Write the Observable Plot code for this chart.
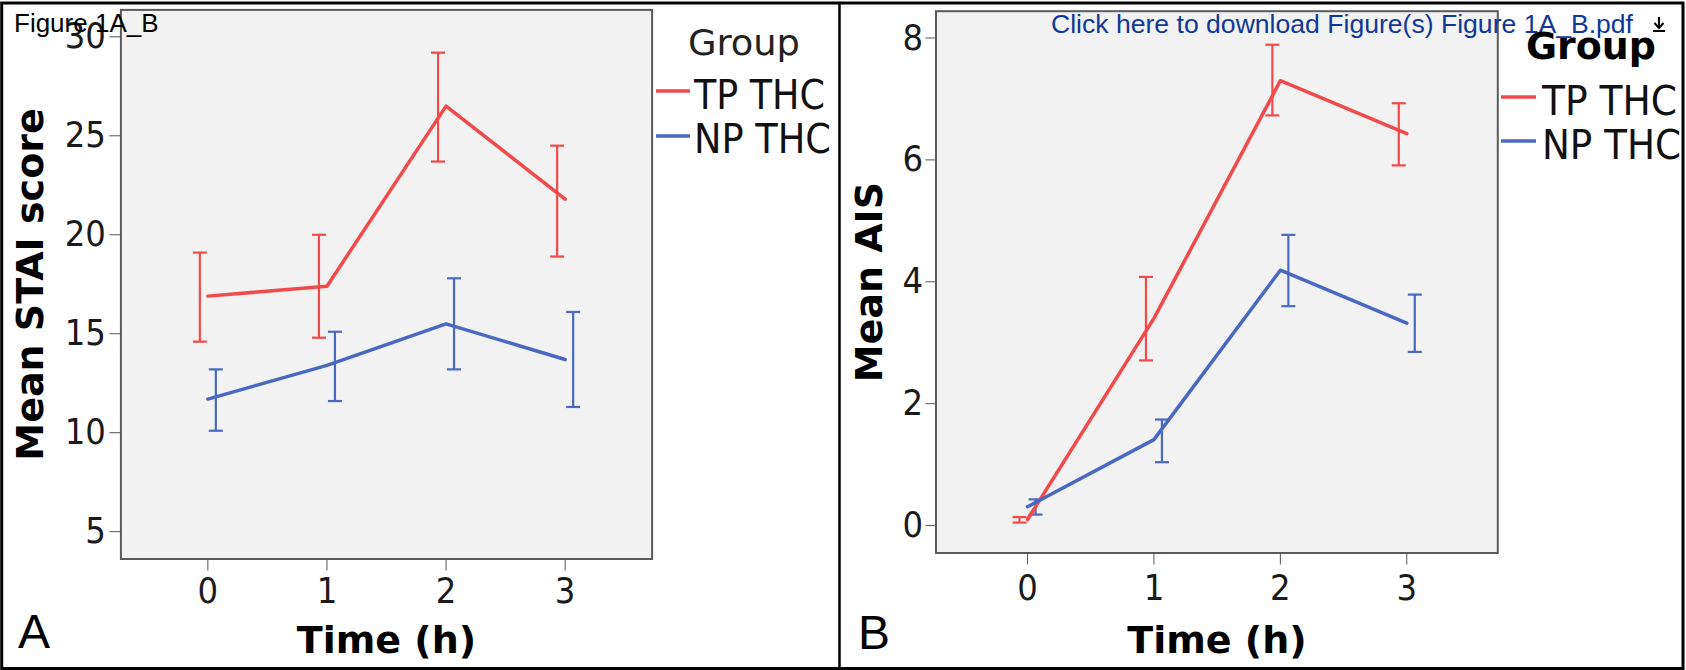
<!DOCTYPE html>
<html><head><meta charset="utf-8">
<script src="https://cdn.jsdelivr.net/npm/d3@7"></script>
<script src="https://cdn.jsdelivr.net/npm/@observablehq/plot@0.6"></script>
<style>
html,body{margin:0;padding:0;background:#fff;}
#fig{position:relative;width:1686px;height:670px;overflow:hidden;background:#fff;}
#fig > svg{position:absolute;top:0;}
.cond{font-family:"DejaVu Sans Condensed","DejaVu Sans",sans-serif;font-stretch:condensed;}
</style></head><body><div id="fig"></div>
<script>
// ---- data ----
const times = [0, 1, 2, 3];
const groups = ["TP THC", "NP THC"];
const colors = ["#f04a4a", "#4a68c2"];

// Panel A: Mean STAI score (mean, lower and upper error bar ends)
const staiMeanTP = [16.9, 17.4, 26.5, 21.8];
const staiLoTP   = [14.6, 14.8, 23.7, 18.9];
const staiHiTP   = [19.1, 20.0, 29.2, 24.5];
const staiMeanNP = [11.7, 13.4, 15.5, 13.7];
const staiLoNP   = [10.1, 11.6, 13.2, 11.3];
const staiHiNP   = [13.2, 15.1, 17.8, 16.1];
const staiTicks  = [5, 10, 15, 20, 25, 30];

// Panel B: Mean AIS
const aisMeanTP = [0.10, 3.40, 7.30, 6.43];
const aisLoTP   = [0.05, 2.71, 6.73, 5.91];
const aisHiTP   = [0.14, 4.08, 7.89, 6.93];
const aisMeanNP = [0.31, 1.41, 4.19, 3.32];
const aisLoNP   = [0.18, 1.04, 3.60, 2.85];
const aisHiNP   = [0.43, 1.74, 4.77, 3.79];
const aisTicks  = [0, 2, 4, 6, 8];

function rows(means, los, his) {
  return groups.flatMap((g, gi) => times.map((t, i) => ({
    group: g, t, mean: means[gi][i], lo: los[gi][i], hi: his[gi][i]
  })));
}
const staiData = rows([staiMeanTP, staiMeanNP], [staiLoTP, staiLoNP], [staiHiTP, staiHiNP]);
const aisData  = rows([aisMeanTP, aisMeanNP], [aisLoTP, aisLoNP], [aisHiTP, aisHiNP]);

const capSymbol = {draw(ctx) { ctx.moveTo(-7, 0); ctx.lineTo(7, 0); }};

function panel(o) {
  const marks = [
    Plot.frame({fill: "#f2f2f2", stroke: "#5a5a5a", strokeWidth: 2}),
    Plot.axisY({ticks: o.yTicks, tickFormat: "d", tickSize: o.yTickSize, tickPadding: o.yTickPad,
                fontSize: 36, stroke: "#555", fill: "#1a1a1a", label: null, className: "cond"}),
    Plot.axisX({ticks: times, tickFormat: "d", tickSize: 12, tickPadding: o.xTickPad, fontSize: 36,
                stroke: "#555", fill: "#1a1a1a", label: null, className: "cond"}),
  ];
  groups.forEach((g, gi) => {
    const d = o.data.filter(r => r.group === g);
    const dx = gi === 0 ? -8 : 8;
    const st = {stroke: colors[gi], strokeWidth: 2.2};
    marks.push(Plot.ruleX(d, {x: "t", y1: "lo", y2: "hi", dx, ...st}));
    marks.push(Plot.dot(d, {x: "t", y: "lo", dx, symbol: capSymbol, fill: "none", ...st}));
    marks.push(Plot.dot(d, {x: "t", y: "hi", dx, symbol: capSymbol, fill: "none", ...st}));
  });
  groups.forEach((g, gi) => {
    const d = o.data.filter(r => r.group === g);
    marks.push(Plot.line(d, {x: "t", y: "mean", stroke: colors[gi], strokeWidth: 3.5}));
  });
  marks.push(Plot.text([o.yTitle], {frameAnchor: "left", dx: o.yTitleDx, rotate: -90,
    fontSize: 38, fontWeight: "bold", fill: "#000", lineAnchor: "middle", textAnchor: "middle"}));
  marks.push(Plot.text([o.xTitle], {frameAnchor: "bottom", dy: o.xTitleDy,
    fontSize: 38, fontWeight: "bold", fill: "#000", lineAnchor: "middle", textAnchor: "middle"}));
  const svg = Plot.plot({
    width: o.width, height: 670,
    marginLeft: o.ml, marginRight: o.mr, marginTop: o.mt, marginBottom: o.mb,
    x: {domain: o.xDomain},
    y: {domain: o.yDomain},
    style: {fontFamily: "DejaVu Sans", background: "transparent", overflow: "visible"},
    marks
  });
  svg.style.left = o.left + "px";
  return svg;
}

const fig = document.getElementById("fig");
fig.appendChild(panel({
  data: staiData, yDomain: [3.62, 31.36], xDomain: [-0.73, 3.73], yTicks: staiTicks,
  width: 840, left: 0, ml: 120.4, mr: 188.4, mt: 9.4, mb: 111.5,
  yTickSize: 11, yTickPad: 4, xTickPad: 6,
  yTitle: "Mean STAI score", yTitleDx: -90, xTitle: "Time (h)", xTitleDy: 82
}));
fig.appendChild(panel({
  data: aisData, yDomain: [-0.45, 8.44], xDomain: [-0.724, 3.72], yTicks: aisTicks,
  width: 846, left: 840, ml: 95.5, mr: 188.7, mt: 10.7, mb: 117.5,
  yTickSize: 10, yTickPad: 3, xTickPad: 9,
  yTitle: "Mean AIS", yTitleDx: -66.5, xTitle: "Time (h)", xTitleDy: 88
}));

// ---- overlay: border, panel letters, legends, header texts ----
const ov = d3.select(fig).append("svg").attr("width", 1686).attr("height", 670)
  .style("left", "0px").style("pointer-events", "none");
ov.append("rect").attr("x", 1.7).attr("y", 3).attr("width", 1681.3).attr("height", 665.5)
  .attr("fill", "none").attr("stroke", "#000").attr("stroke-width", 3);
ov.append("line").attr("x1", 839.5).attr("x2", 839.5).attr("y1", 3).attr("y2", 668.5)
  .attr("stroke", "#000").attr("stroke-width", 2.5);

function txt(s, x, y, size, opts = {}) {
  const t = ov.append("text").attr("x", x).attr("y", y).text(s)
    .attr("font-size", size)
    .attr("font-weight", opts.weight || "normal").attr("fill", opts.fill || "#000");
  if (opts.cls) t.attr("class", opts.cls);
  else t.attr("font-family", opts.family || "DejaVu Sans");
  if (opts.len) t.attr("textLength", opts.len).attr("lengthAdjust", "spacingAndGlyphs");
  return t;
}
txt("Figure 1A_B", 14, 32, 26, {family: "Liberation Sans"});
txt("Click here to download Figure(s) Figure 1A_B.pdf", 1051, 33, 26.5,
    {family: "Liberation Sans", fill: "#0f3898", len: 582});
// download icon
ov.append("path").attr("d", "M1659,17 V27 M1654.5,23 L1659,28 L1663.5,23 M1653,31 H1665")
  .attr("stroke", "#000").attr("stroke-width", 2).attr("fill", "none");

txt("A", 18, 648, 48, {family: "Liberation Sans"});
txt("B", 858, 649, 48, {family: "Liberation Sans"});

// legend panel A
txt("Group", 688, 55, 36, {fill: "#222", len: 112, cls: "cond"});
const legA = [{y: 91, ty: 109}, {y: 136, ty: 153}];
const legB = [{y: 97, ty: 115}, {y: 141, ty: 159}];
groups.forEach((g, gi) => {
  ov.append("line").attr("x1", 656).attr("x2", 690).attr("y1", legA[gi].y).attr("y2", legA[gi].y)
    .attr("stroke", colors[gi]).attr("stroke-width", 3.5);
  txt(g, 694, legA[gi].ty, 40, {fill: "#111", cls: "cond", len: gi === 0 ? 131 : 137});
});
// legend panel B
txt("Group", 1526, 59, 37, {weight: "bold", fill: "#000", len: 130});
groups.forEach((g, gi) => {
  ov.append("line").attr("x1", 1501).attr("x2", 1536).attr("y1", legB[gi].y).attr("y2", legB[gi].y)
    .attr("stroke", colors[gi]).attr("stroke-width", 3.5);
  txt(g, 1542, legB[gi].ty, 41, {fill: "#111", cls: "cond", len: gi === 0 ? 135 : 139});
});
</script></body></html>
